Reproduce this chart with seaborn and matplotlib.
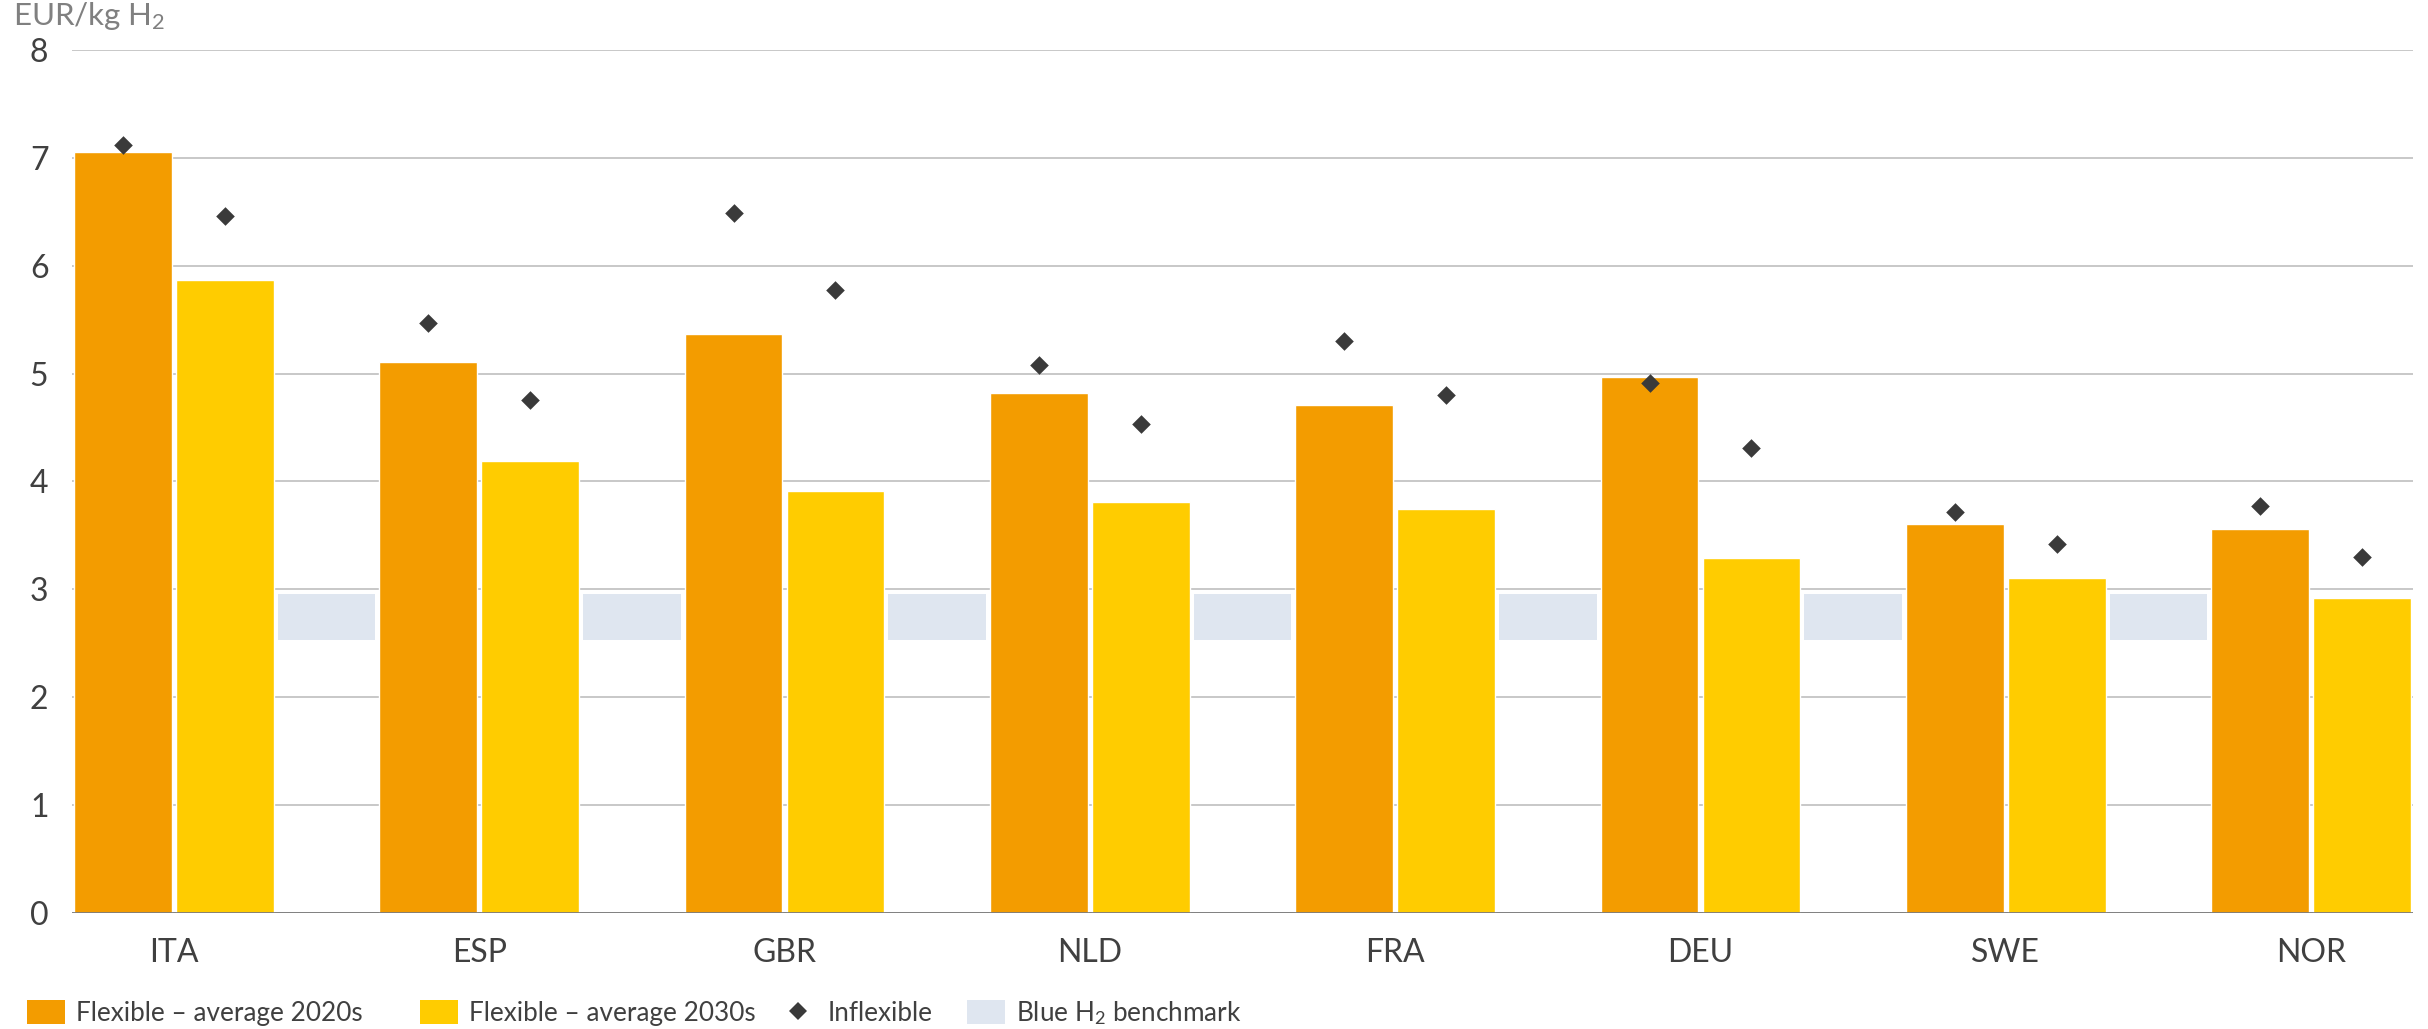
import numpy as np
import pandas as pd
import seaborn as sns
import matplotlib
matplotlib.use("Agg")
import matplotlib.pyplot as plt
from matplotlib.patches import Patch
from matplotlib.lines import Line2D

# ---------------- data ----------------
countries = ["ITA", "ESP", "GBR", "NLD", "FRA", "DEU", "SWE", "NOR"]
flex_2020s = [7.05, 5.11, 5.37, 4.82, 4.71, 4.97, 3.60, 3.56]
flex_2030s = [5.87, 4.19, 3.91, 3.81, 3.74, 3.29, 3.10, 2.92]
inflex_2020s = [7.12, 5.47, 6.49, 5.08, 5.30, 4.91, 3.72, 3.77]
inflex_2030s = [6.46, 4.75, 5.77, 4.53, 4.80, 4.31, 3.42, 3.30]
blue_low = 2.53
blue_high = 2.96
series_labels = ["Flexible – average 2020s", "Flexible – average 2030s"]
inflex_label = "Inflexible"
blue_label = "Blue H$_2$ benchmark"
unit_label = "EUR/kg H$_2$"
y_ticks = [0, 1, 2, 3, 4, 5, 6, 7, 8]

# ---------------- style ----------------
sns.set_theme(style="white")
plt.rcParams["font.family"] = ["Lato", "DejaVu Sans"]
plt.rcParams["mathtext.fontset"] = "custom"
plt.rcParams["mathtext.rm"] = "Lato"
plt.rcParams["mathtext.it"] = "Lato:italic"
plt.rcParams["mathtext.bf"] = "Lato:bold"

ORANGE = "#F39C00"
YELLOW = "#FFCC00"
DIAMOND = "#3a3a3a"
BAND = "#DFE6F0"
GRID = "#C8C8C8"
TXT = "#404040"

fig = plt.figure(figsize=(24.28, 10.29), dpi=100)
W, H = 2428, 1029
ax = fig.add_axes([72 / W, 1 - 912.7 / H, (2413 - 72) / W, (912.7 - 50) / H])

n = len(countries)
codes = list(range(n))
df = pd.DataFrame({
    "code": codes * 2,
    "value": flex_2020s + flex_2030s,
    "series": [series_labels[0]] * n + [series_labels[1]] * n,
})

sns.barplot(data=df, x="code", y="value", hue="series",
            hue_order=series_labels,
            palette={series_labels[0]: ORANGE, series_labels[1]: YELLOW},
            width=2 / 3, gap=0.04, saturation=1, errorbar=None,
            legend=False, ax=ax, zorder=2)

# blue H2 benchmark band in the gap after each group
band_x = np.arange(n - 1) + 0.5
ax.bar(band_x, blue_high - blue_low, bottom=blue_low, width=(1 / 3) * 0.96,
       color=BAND, linewidth=0, zorder=1.5)

# inflexible diamonds
sns.scatterplot(x=np.arange(n) - 1 / 6, y=inflex_2020s, marker="D", s=90,
                color=DIAMOND, linewidth=0, ax=ax, zorder=6, legend=False)
sns.scatterplot(x=np.arange(n) + 1 / 6, y=inflex_2030s, marker="D", s=90,
                color=DIAMOND, linewidth=0, ax=ax, zorder=6, legend=False)

ax.set_xlim(-1 / 3, n - 1 + 1 / 3)
ax.set_ylim(0, 8)
ax.set_yticks(y_ticks)
ax.set_yticklabels([str(t) for t in y_ticks])
ax.set_xticks(codes)
ax.set_xticklabels(countries)
ax.set_xlabel("")
ax.set_ylabel("")

ax.yaxis.grid(True, color=GRID, linewidth=1.4)
ax.xaxis.grid(False)
ax.set_axisbelow(True)
for s in ax.spines.values():
    s.set_visible(False)
ax.axhline(0, color="#7a7a7a", linewidth=2, zorder=7)

ax.tick_params(axis="y", length=0, pad=17, labelsize=23, labelcolor=TXT)
ax.tick_params(axis="x", length=0, pad=18, labelsize=23, labelcolor=TXT)

fig.text(13 / W, 1 - 25 / H, unit_label, fontsize=22.5, color="#808080",
         ha="left", va="baseline")

# legend: one entry per legend box, placed as in the reference
handles = [
    Patch(facecolor=ORANGE, edgecolor="none"),
    Patch(facecolor=YELLOW, edgecolor="none"),
    Line2D([], [], marker="D", linestyle="none", color=DIAMOND,
           markersize=9.5, markeredgewidth=0),
    Patch(facecolor=BAND, edgecolor="none"),
]
labels = series_labels + [inflex_label, blue_label]
legend_left_px = [27, 420, 779, 967]
for h, lab, lx in zip(handles, labels, legend_left_px):
    fig.legend([h], [lab], loc="center left",
               bbox_to_anchor=(lx / W, 1 - 1013 / H), frameon=False,
               fontsize=18.8, labelcolor=TXT, borderpad=0, borderaxespad=0,
               handlelength=1.46, handleheight=1.04, handletextpad=0.42)

fig.savefig("out.png", dpi=100, facecolor="white")
